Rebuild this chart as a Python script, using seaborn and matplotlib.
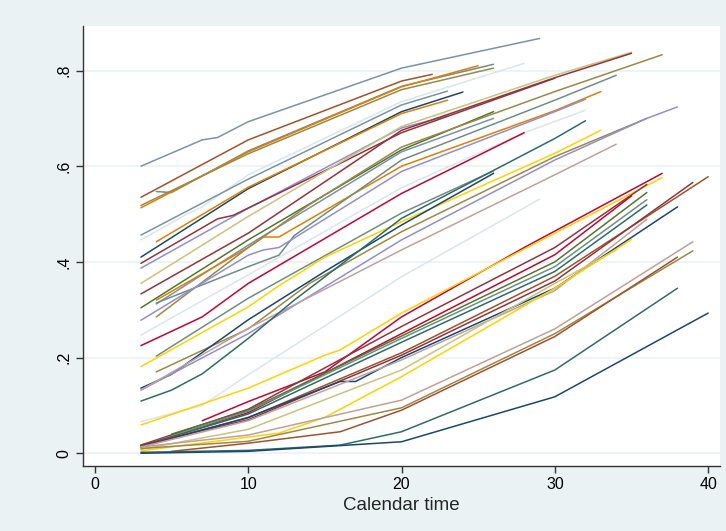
import pandas as pd
import matplotlib
matplotlib.use("Agg")
import matplotlib.pyplot as plt
import seaborn as sns

# Stata s2color palette
NAVY, MAROON, FGREEN, DKORANGE = "#1a476f", "#90353b", "#55752f", "#e37e00"
TEAL, CRANBERRY, LAVENDER, KHAKI = "#6e8e84", "#c10534", "#938dd2", "#cac27e"
SIENNA, EMIDBLUE, EMERALD, BROWN = "#a0522d", "#7b92a8", "#2d6d66", "#9c8847"
EROSE, GOLD, BLUISHGRAY = "#bfa19c", "#ffd200", "#d9e6eb"

# upper bundle: curves that start high and flatten
upper_colors = [EMIDBLUE, SIENNA, TEAL, DKORANGE, BROWN, BLUISHGRAY, EMIDBLUE, NAVY,
                DKORANGE, LAVENDER, MAROON, KHAKI, MAROON, FGREEN, EMIDBLUE, DKORANGE,
                BROWN, TEAL, LAVENDER, BLUISHGRAY, CRANBERRY, TEAL, GOLD, BROWN,
                NAVY, LAVENDER, EROSE, EMERALD, BLUISHGRAY]
upper_x = [
    [3, 7, 8, 10, 20, 29],
    [3, 10, 20, 22],
    [4, 5, 10, 20, 26],
    [3, 10, 20, 25],
    [3, 10, 20, 26],
    [3, 6, 7, 10, 20, 28],
    [3, 10, 20, 23],
    [3, 10, 20, 24],
    [4, 10, 20, 23],
    [3, 10, 20, 23],
    [3, 8, 9, 16, 20, 30],
    [3, 10, 20, 30, 35],
    [3, 10, 20, 30, 35],
    [3, 10, 20, 26],
    [4, 10, 20, 26],
    [4, 10, 11, 12, 20, 30, 33],
    [4, 10, 14, 20, 30, 37],
    [4, 10, 12, 13, 20, 30, 34],
    [3, 10, 11, 12, 20, 30, 32],
    [3, 10, 20, 28, 32],
    [3, 6, 7, 10, 20, 28],
    [4, 10, 20, 26],
    [3, 10, 12, 15, 20, 30, 33],
    [4, 10, 14, 20, 30, 36],
    [3, 5, 10, 15, 20, 26],
    [3, 10, 20, 30, 36, 38],
    [3, 10, 20, 30, 34],
    [3, 5, 7, 10, 13, 20, 30, 32],
    [3, 7, 10, 20, 29],
]
upper_y = [
    [.600, .655, .660, .693, .805, .867],
    [.535, .655, .778, .792],
    [.547, .545, .632, .767, .813],
    [.513, .630, .766, .810],
    [.518, .626, .760, .805],
    [.446, .500, .515, .582, .735, .815],
    [.456, .573, .728, .757],
    [.410, .553, .714, .755],
    [.442, .556, .710, .738],
    [.387, .512, .680, .705],
    [.397, .490, .497, .606, .670, .784],
    [.355, .495, .683, .790, .838],
    [.333, .460, .675, .785, .836],
    [.304, .446, .634, .714],
    [.312, .435, .630, .700],
    [.320, .430, .452, .452, .600, .716, .756],
    [.285, .430, .520, .640, .756, .833],
    [.314, .390, .414, .455, .613, .738, .790],
    [.278, .414, .425, .430, .589, .714, .740],
    [.247, .373, .555, .670, .717],
    [.225, .270, .285, .355, .543, .670],
    [.203, .324, .502, .590],
    [.181, .306, .350, .410, .484, .627, .675],
    [.170, .260, .355, .463, .620, .700],
    [.136, .165, .279, .380, .477, .585],
    [.132, .250, .446, .613, .700, .724],
    [.132, .261, .425, .582, .646],
    [.109, .132, .166, .240, .320, .491, .658, .695],
    [.066, .100, .164, .369, .531],
]

# lower bundle: curves that start near zero and accelerate
lower_colors = [CRANBERRY, GOLD, MAROON, CRANBERRY, FGREEN, TEAL, EMERALD, SIENNA,
                MAROON, NAVY, EROSE, KHAKI, GOLD, EROSE, BROWN, SIENNA, EMERALD, NAVY]
lower_x = [
    [7, 10, 15, 20, 28, 37],
    [3, 10, 15, 16, 20, 30, 37],
    [3, 10, 20, 30, 36],
    [3, 10, 20, 30, 35],
    [5, 10, 20, 30, 36],
    [3, 10, 20, 30, 36],
    [3, 10, 20, 30, 36],
    [3, 10, 20, 30, 40],
    [3, 10, 20, 30, 39],
    [3, 10, 16, 17, 20, 30, 38],
    [3, 10, 20, 30, 36],
    [3, 10, 20, 30, 34],
    [3, 12, 15, 20, 30, 35],
    [3, 10, 20, 30, 39],
    [3, 10, 20, 30, 39],
    [5, 10, 16, 20, 30, 38],
    [3, 10, 16, 20, 30, 38],
    [3, 10, 20, 30, 40],
]
lower_y = [
    [.068, .108, .170, .285, .430, .585],
    [.059, .136, .205, .216, .293, .460, .576],
    [.017, .092, .265, .430, .562],
    [.015, .085, .250, .415, .538],
    [.040, .090, .245, .400, .545],
    [.015, .088, .240, .390, .530],
    [.015, .082, .232, .380, .519],
    [.016, .074, .210, .370, .578],
    [.017, .070, .205, .360, .566],
    [.013, .075, .150, .150, .200, .345, .515],
    [.013, .068, .195, .340, .489],
    [.008, .050, .174, .355, .425],
    [.005, .042, .075, .160, .345, .447],
    [.013, .038, .111, .260, .442],
    [.010, .025, .095, .250, .423],
    [.004, .021, .045, .090, .244, .410],
    [.002, .006, .017, .045, .174, .345],
    [.000, .004, .024, .118, .293],
]

x_ticks = [0, 10, 20, 30, 40]
y_ticks = [0, .2, .4, .6, .8]
y_ticklabels = ["0", ".2", ".4", ".6", ".8"]

rows = []
palette = {}
for name, xs_all, ys_all, cols in [("u", upper_x, upper_y, upper_colors),
                                   ("l", lower_x, lower_y, lower_colors)]:
    for i, (xs, ys) in enumerate(zip(xs_all, ys_all)):
        key = f"{name}{i}"
        palette[key] = cols[i]
        for xv, yv in zip(xs, ys):
            rows.append({"line": key, "time": xv, "value": yv})
df = pd.DataFrame(rows)

sns.set_style("white")
plt.rcParams["font.family"] = ["Liberation Sans", "DejaVu Sans"]

fig = plt.figure(figsize=(7.26, 5.31), dpi=100, facecolor="#eaf2f3")
ax = fig.add_axes([0.1143, 0.123, 0.8774, 0.828])
ax.set_facecolor("white")

sns.lineplot(data=df, x="time", y="value", hue="line", palette=palette,
             estimator=None, sort=False, legend=False, linewidth=1.1, ax=ax)

ax.set_xlim(-0.78, 40.77)
ax.set_ylim(-0.026, 0.893)
ax.set_xticks(x_ticks)
ax.set_yticks(y_ticks)
ax.set_yticklabels(y_ticklabels, rotation=90, va="center")
ax.yaxis.grid(True, color="#eaf2f3", linewidth=1.2)
ax.set_axisbelow(True)
ax.set_xlabel("Calendar time", fontsize=13.5, labelpad=3)
ax.set_ylabel("")
for s in ["top", "right"]:
    ax.spines[s].set_visible(False)
for s in ["left", "bottom"]:
    ax.spines[s].set_color("#333333")
    ax.spines[s].set_linewidth(1.0)
ax.tick_params(axis="both", direction="out", length=5, width=1, color="#333333",
               labelsize=11.5, labelcolor="black", left=True, bottom=True)

fig.savefig("out.png", dpi=100, facecolor=fig.get_facecolor())
